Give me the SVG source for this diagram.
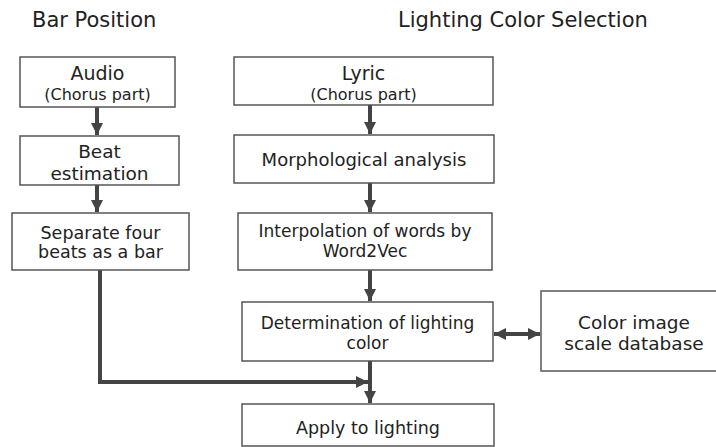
<svg xmlns="http://www.w3.org/2000/svg" width="716" height="447" viewBox="0 0 716 447">
<style>
.box{fill:#fff;stroke:#555;stroke-width:1.5}
.t{font-family:"DejaVu Sans","Noto Sans",sans-serif;fill:#222;text-anchor:middle;font-size:17px}
.h{font-family:"DejaVu Sans","Noto Sans",sans-serif;fill:#222;font-size:21px}
.c{fill:none;stroke:#444;stroke-width:4}
</style>
<defs>
<marker id="ah" viewBox="0 0 10 10" refX="10" refY="5" markerWidth="3" markerHeight="3" markerUnits="strokeWidth" orient="auto-start-reverse">
<path d="M0,0 L10,5 L0,10 Z" fill="#444"/>
</marker>
</defs>
<rect width="716" height="447" fill="#fff"/>
<text class="h" x="32" y="27">Bar Position</text>
<text class="h" x="398" y="27">Lighting Color Selection</text>
<g id="connectors">
<line class="c" x1="97" y1="107" x2="97" y2="135" marker-end="url(#ah)"/>
<line class="c" x1="97" y1="185" x2="97" y2="212" marker-end="url(#ah)"/>
<polyline class="c" points="100,270 100,382 368,382" marker-end="url(#ah)"/>
<line class="c" x1="370" y1="105" x2="370" y2="134" marker-end="url(#ah)"/>
<line class="c" x1="370" y1="183" x2="370" y2="212" marker-end="url(#ah)"/>
<line class="c" x1="370" y1="270" x2="370" y2="301" marker-end="url(#ah)"/>
<line class="c" x1="370" y1="361" x2="370" y2="403" marker-end="url(#ah)"/>
<line class="c" x1="494" y1="334" x2="540" y2="334" marker-start="url(#ah)" marker-end="url(#ah)"/>
</g>
<g id="audio">
<rect class="box" x="20" y="57" width="155" height="50"/>
<text class="t" x="97.5" y="80" style="font-size:19px">Audio</text>
<text class="t" x="97.5" y="100" style="font-size:16px">(Chorus part)</text>
</g>
<g id="beat">
<rect class="box" x="20" y="136" width="159" height="49"/>
<text class="t" x="99.5" y="158" style="font-size:18.5px">Beat</text>
<text class="t" x="99.5" y="180" style="font-size:18.5px">estimation</text>
</g>
<g id="separate">
<rect class="box" x="12" y="213" width="177" height="57"/>
<text class="t" x="100.5" y="239" style="font-size:17.5px">Separate four</text>
<text class="t" x="100.5" y="258" style="font-size:17.5px">beats as a bar</text>
</g>
<g id="lyric">
<rect class="box" x="234" y="57" width="259" height="48"/>
<text class="t" x="363.5" y="80" style="font-size:19px">Lyric</text>
<text class="t" x="363.5" y="100" style="font-size:16px">(Chorus part)</text>
</g>
<g id="morph">
<rect class="box" x="234" y="135" width="260" height="48"/>
<text class="t" x="364" y="166" style="font-size:18px">Morphological analysis</text>
</g>
<g id="interp">
<rect class="box" x="238" y="213" width="254" height="57"/>
<text class="t" x="365" y="237">Interpolation of words by</text>
<text class="t" x="365" y="257">Word2Vec</text>
</g>
<g id="determ">
<rect class="box" x="242" y="302" width="251" height="59"/>
<text class="t" x="367.5" y="329">Determination of lighting</text>
<text class="t" x="367.5" y="349">color</text>
</g>
<g id="colordb">
<rect class="box" x="541" y="291" width="186" height="80"/>
<text class="t" x="634" y="329" style="font-size:18.5px">Color image</text>
<text class="t" x="634" y="350" style="font-size:18.5px">scale database</text>
</g>
<g id="apply">
<rect class="box" x="242" y="404" width="252" height="42"/>
<text class="t" x="368" y="434" style="font-size:17.5px">Apply to lighting</text>
</g>
</svg>
